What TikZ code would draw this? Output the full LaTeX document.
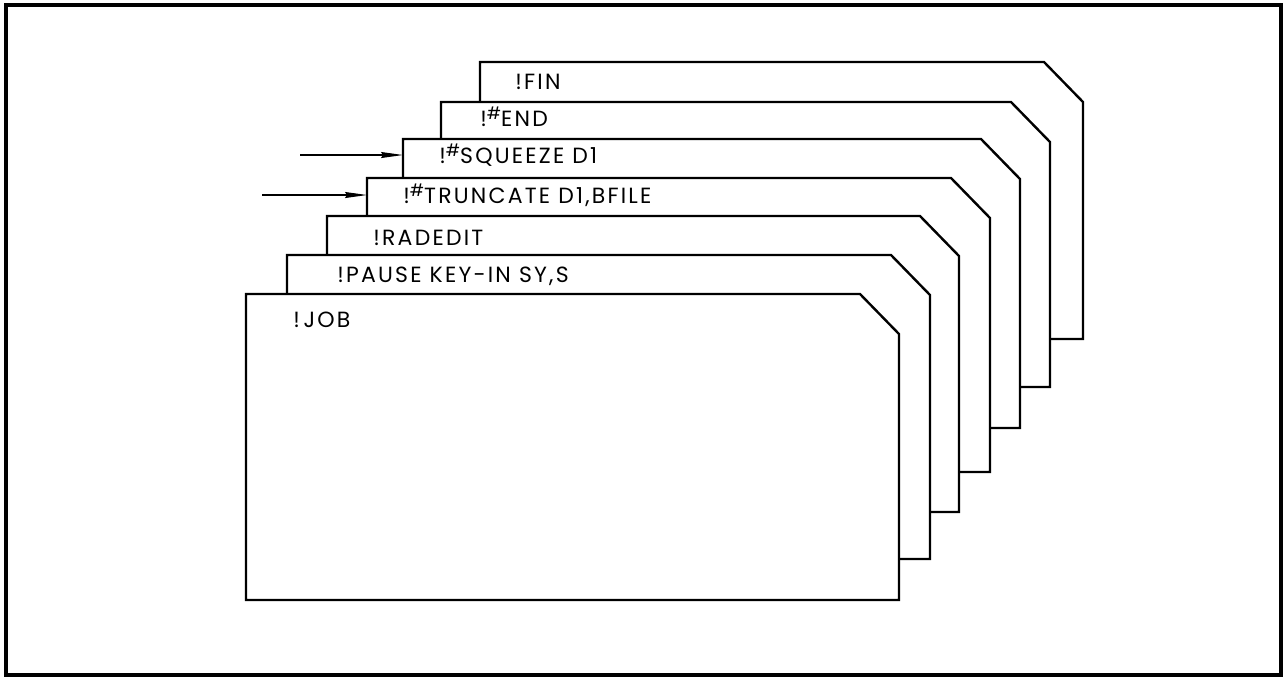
\documentclass[tikz,border=0pt]{standalone}
\usepackage{fontspec}
\setmainfont{Poppins}[LetterSpace=10]
\usetikzlibrary{arrows.meta}
\newcommand\hsh{\raisebox{0.55ex}{\fontsize{8.5}{8.5}\selectfont\#}}
\newcommand\mycard[5]{% name, left, top, right, bottom
  \draw[card] (#2,#5) -- (#2,#3) -- (#4-39,#3) -- (#4,#3+40) -- (#4,#5) -- cycle;
  \coordinate (#1-nw) at (#2,#3);}
\begin{document}
\begin{tikzpicture}[x=0.5pt,y=-0.5pt,
  card/.style={draw=black,fill=white,line width=1.2pt,line join=miter},
  lbl/.style={anchor=base west,inner sep=0pt,font=\fontsize{11}{13}\selectfont},
  arr/.style={-{Stealth[length=11pt,width=3pt,inset=1pt]},line width=0.6pt}]
\useasboundingbox (0,0) rectangle (1284,677);
\draw[line width=1.6pt] (6,5) rectangle (1281,675);
% cards, back to front
\mycard{fin}{480}{62}{1083}{339}
\mycard{end}{441}{102}{1050}{387}
\mycard{sq}{403}{139}{1020}{428}
\mycard{tr}{367}{178}{990}{472}
\mycard{rad}{327}{216}{959}{512}
\mycard{pau}{287}{255}{930}{559}
\mycard{job}{246}{294}{899}{600}
% labels
\node[lbl] (tfin) at (515,89) {!FIN};
\node[lbl] (tend) at (480,126) {!\hsh END};
\node[lbl] (tsq) at (439,163) {!\hsh SQUEEZE D1};
\node[lbl] (ttr) at (403,203) {!\hsh TRUNCATE D1,BFILE};
\node[lbl] (trad) at (373,245) {!RADEDIT};
\node[lbl] (tpau) at (337,282) {!PAUSE KEY-IN SY,S};
\node[lbl] (tjob) at (293,327) {!\,JOB};
% arrows
\coordinate (sqA) at (300,155);
\coordinate (sqL) at (403,155);
\coordinate (trA) at (262,195);
\coordinate (trL) at (367,195);
\draw[arr] (sqA) -- (sqL);
\draw[arr] (trA) -- (trL);
\end{tikzpicture}
\end{document}
